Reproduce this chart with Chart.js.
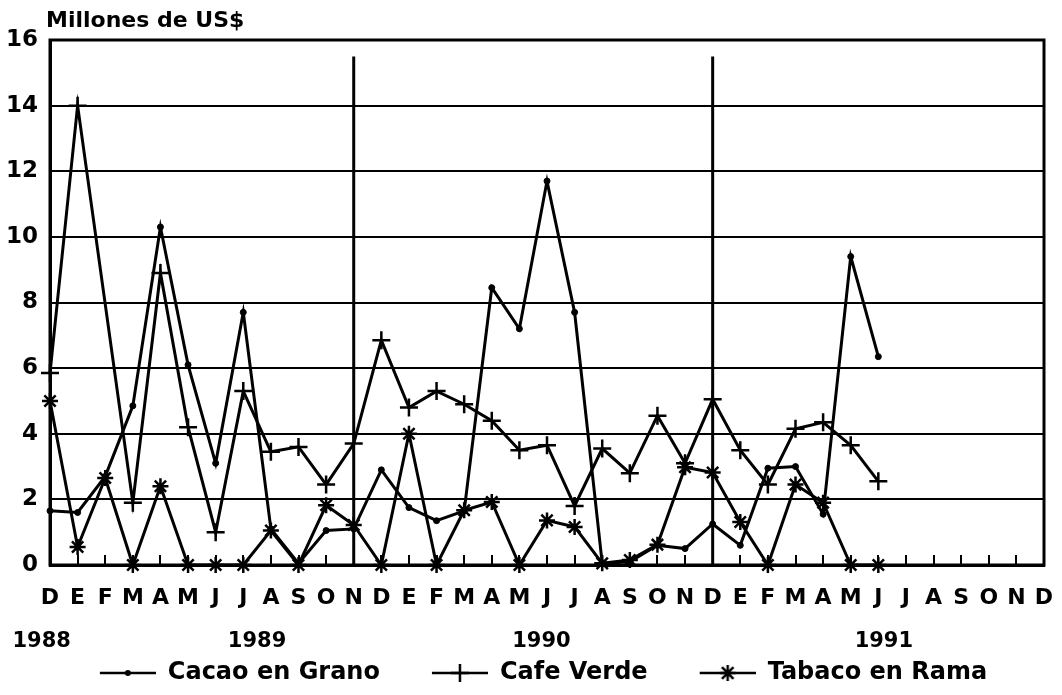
<!DOCTYPE html>
<html>
<head>
<meta charset="utf-8">
<script src="https://cdn.jsdelivr.net/npm/chart.js@4/dist/chart.umd.min.js"></script>
<style>
  html, body { margin: 0; padding: 0; background: #fff; }
  #wrap { width: 1062px; height: 695px; }
</style>
</head>
<body>
<div id="wrap"><canvas id="chart"></canvas></div>
<script>
// month letters, Dec 1988 .. Dec 1991
const months = ['D',
  'E','F','M','A','M','J','J','A','S','O','N','D',
  'E','F','M','A','M','J','J','A','S','O','N','D',
  'E','F','M','A','M','J','J','A','S','O','N','D'];

// year labels and the month index they sit under
const yearLabels = ['1988', '1989', '1990', '1991'];
const yearMonth = [-0.3, 7.5, 17.8, 30.2];

const unitLabel = 'Millones de US$';

// millions of US$
const cacao = [1.65, 1.6, 2.7, 4.85, 10.3, 6.1, 3.1, 7.7, 1.1, 0.05, 1.05, 1.1,
  2.9, 1.75, 1.35, 1.65, 8.45, 7.2, 11.7, 7.7, 0.05, 0.1, 0.6, 0.5,
  1.25, 0.6, 2.95, 3.0, 1.55, 9.4, 6.35];
const cafe = [5.85, 14.0, null, 1.9, 8.9, 4.2, 1.0, 5.3, 3.45, 3.6, 2.45, 3.7,
  6.85, 4.8, 5.3, 4.9, 4.4, 3.5, 3.65, 1.8, 3.55, 2.8, 4.55, 3.1,
  5.05, 3.5, 2.45, 4.15, 4.35, 3.65, 2.55];
const tabaco = [5.0, 0.55, 2.65, 0, 2.4, 0, 0, 0, 1.05, 0, 1.82, 1.22,
  0, 4.0, 0, 1.67, 1.92, 0, 1.36, 1.16, 0.05, 0.15, 0.62, 2.98,
  2.82, 1.31, 0, 2.45, 1.9, 0, 0];

// vertical separators (month index) and how high they reach
const dividerMonths = [11, 24];
const dividerTop = 15.5;

const seriesNames = ['Cacao en Grano', 'Cafe Verde', 'Tabaco en Rama'];

function toPoints(arr) {
  return arr.map(function (v, i) { return {x: i, y: v}; });
}

// little line + marker pictures for the legend (blank strip on the left = gap)
const ICON_GAP = 43;
function legendIcon(style) {
  const c = document.createElement('canvas');
  c.width = ICON_GAP + 56; c.height = 24;
  const g = c.getContext('2d');
  const cx = ICON_GAP + 28, cy = 12;
  g.strokeStyle = '#000'; g.fillStyle = '#000';
  g.lineWidth = 2.5;
  g.beginPath(); g.moveTo(ICON_GAP, cy); g.lineTo(ICON_GAP + 56, cy); g.stroke();
  g.beginPath();
  if (style === 'circle') {
    g.arc(cx, cy, 3, 0, Math.PI * 2); g.fill();
  } else {
    const r = style === 'cross' ? 9 : 8;
    g.moveTo(cx, cy - r); g.lineTo(cx, cy + r);
    g.moveTo(cx - r, cy); g.lineTo(cx + r, cy);
    if (style === 'star') {
      const d = r * 0.72;
      g.moveTo(cx - d, cy - d); g.lineTo(cx + d, cy + d);
      g.moveTo(cx - d, cy + d); g.lineTo(cx + d, cy - d);
    }
    g.stroke();
  }
  return c;
}
const icons = [legendIcon('circle'), legendIcon('cross'), legendIcon('star')];

const series = [
  {
    label: seriesNames[0], data: toPoints(cacao),
    pointStyle: 'circle', pointRadius: 3, pointBorderWidth: 1
  },
  {
    label: seriesNames[1], data: toPoints(cafe), spanGaps: true,
    pointStyle: 'cross', pointRadius: 9, pointBorderWidth: 2.5
  },
  {
    label: seriesNames[2], data: toPoints(tabaco),
    pointStyle: 'star', pointRadius: 8, pointBorderWidth: 2.5
  }
].map(function (ds) {
  return Object.assign({
    borderColor: '#000', backgroundColor: '#000', borderWidth: 3,
    pointBorderColor: '#000', pointBackgroundColor: '#000',
    tension: 0, clip: false
  }, ds);
});

const dividers = dividerMonths.map(function (m) {
  return {
    label: 'divider', data: [{x: m, y: 0}, {x: m, y: dividerTop}],
    borderColor: '#000', borderWidth: 3, pointRadius: 0, tension: 0
  };
});

const frame = {
  id: 'frame',
  afterDraw(chart) {
    const ctx = chart.ctx, a = chart.chartArea;
    ctx.save();
    ctx.strokeStyle = '#000';
    ctx.lineWidth = 3;
    ctx.strokeRect(a.left, a.top, a.right - a.left, a.bottom - a.top);
    ctx.fillStyle = '#000';
    ctx.font = 'bold 22px "DejaVu Sans"';
    ctx.textBaseline = 'alphabetic';
    ctx.textAlign = 'left';
    ctx.fillText(unitLabel, a.left - 4, a.top - 13);
    ctx.restore();
  }
};

Chart.defaults.font.family = '"DejaVu Sans", sans-serif';
Chart.defaults.font.weight = 'bold';
Chart.defaults.color = '#000';

new Chart(document.getElementById('chart'), {
  type: 'line',
  data: { datasets: series.concat(dividers) },
  plugins: [frame],
  options: {
    responsive: true,
    maintainAspectRatio: false,
    animation: false,
    layout: { padding: { top: 40, right: 18, bottom: 0, left: 0 } },
    plugins: {
      tooltip: { enabled: false },
      legend: {
        position: 'bottom',
        labels: {
          usePointStyle: true,
          pointStyleWidth: ICON_GAP + 56,
          padding: 9,
          color: '#000',
          font: { size: 24, weight: 'bold' },
          generateLabels: function (chart) {
            return seriesNames.map(function (name, i) {
              return {
                text: name, pointStyle: icons[i], datasetIndex: i,
                fillStyle: '#000', strokeStyle: '#000', lineWidth: 0,
                fontColor: '#000', hidden: false
              };
            });
          }
        }
      }
    },
    scales: {
      x: {
        type: 'linear', position: 'bottom', min: 0, max: 36,
        afterFit: function (s) { s.height = 46; },
        ticks: {
          stepSize: 1, autoSkip: false, maxRotation: 0, padding: 0,
          font: { size: 22, lineHeight: '86px' },
          callback: function (v) { return months[Math.round(v)]; }
        },
        grid: { drawOnChartArea: false, tickLength: -10, color: '#000', lineWidth: 2 },
        border: { color: '#000', width: 3 }
      },
      x2: {
        type: 'linear', position: 'bottom', min: 0, max: 36,
        afterFit: function (s) { s.height = 41; },
        afterBuildTicks: function (s) {
          s.ticks = yearMonth.map(function (v) { return {value: v}; });
        },
        ticks: {
          autoSkip: false, maxRotation: 0, padding: 0,
          font: { size: 21, lineHeight: '62px' },
          callback: function (v, i) { return yearLabels[i]; }
        },
        grid: { display: false, drawTicks: false },
        border: { display: false }
      },
      y: {
        min: 0, max: 16,
        afterFit: function (s) { s.width = 50; },
        ticks: { stepSize: 2, padding: 12, font: { size: 23 } },
        grid: { color: '#000', lineWidth: 2, drawTicks: false },
        border: { color: '#000', width: 3 }
      }
    }
  }
});
</script>
</body>
</html>
